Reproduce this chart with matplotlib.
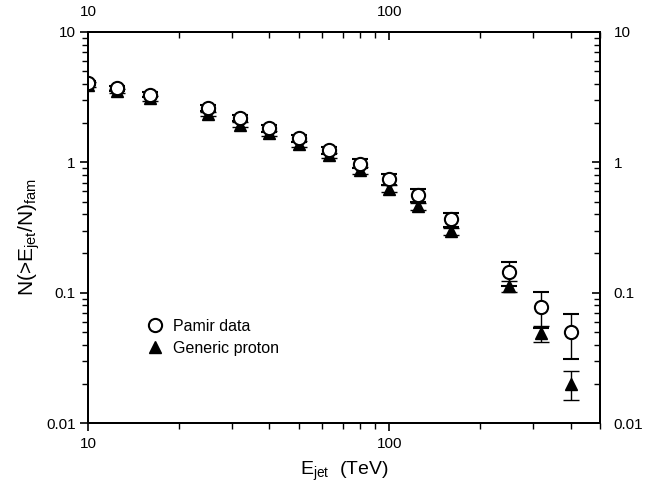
"""
Integral jet-energy spectrum: Pamir data vs. generic proton model.
Log-log plot with mirrored top/right axes, saved to out.png.
"""
import matplotlib
matplotlib.use("Agg")
import matplotlib.pyplot as plt
from matplotlib.lines import Line2D
from matplotlib.ticker import FuncFormatter, NullFormatter, LogLocator

plt.rcParams["font.family"] = ["Liberation Sans", "DejaVu Sans"]
plt.rcParams["mathtext.fontset"] = "custom"
plt.rcParams["mathtext.rm"] = "Liberation Sans"

# --------------------------------------------------------------------------- #
# Data
# --------------------------------------------------------------------------- #
E_JET = [10, 12.5, 16, 25, 32, 40, 50, 63, 80, 100, 125, 160, 250, 320, 400]

PAMIR = [4.05, 3.7, 3.3, 2.62, 2.2, 1.82, 1.53, 1.24, 0.98, 0.74, 0.56, 0.365,
         0.143, 0.078, 0.050]
PAMIR_ERR = [0.15, 0.15, 0.15, 0.15, 0.12, 0.10, 0.09, 0.08, 0.08, 0.07, 0.06,
             0.045, 0.03, 0.024, 0.019]

PROTON = [3.95, 3.55, 3.1, 2.35, 1.95, 1.67, 1.38, 1.13, 0.87, 0.63, 0.46, 0.295,
          0.113, 0.049, 0.020]
PROTON_ERR = [0.15, 0.12, 0.12, 0.10, 0.09, 0.08, 0.07, 0.05, 0.05, 0.04, 0.03,
              0.02, 0.011, 0.007, 0.005]

X_LIM = (10, 500)
Y_LIM = (0.01, 10)


def fmt(v, _pos):
    return f"{v:g}"


def style_log_axis(axis):
    axis.set_major_locator(LogLocator(base=10))
    axis.set_minor_locator(LogLocator(base=10, subs=range(2, 10)))
    axis.set_major_formatter(FuncFormatter(fmt))
    axis.set_minor_formatter(NullFormatter())


fig = plt.figure(figsize=(6.62, 4.92), dpi=100)
ax = fig.add_axes([0.133, 0.14, 0.773, 0.795])

ax.errorbar(E_JET, PAMIR, yerr=PAMIR_ERR, fmt="o", ms=9.5, mfc="white",
            mec="black", mew=1.5, ecolor="black", elinewidth=1.0, capsize=5.5,
            capthick=1.0, zorder=3)
ax.errorbar(E_JET, PROTON, yerr=PROTON_ERR, fmt="^", ms=8, mfc="black",
            mec="black", ecolor="black", elinewidth=1.0, capsize=5.5,
            capthick=1.0, zorder=2)

ax.set_xscale("log")
ax.set_yscale("log")
ax.set_xlim(*X_LIM)
ax.set_ylim(*Y_LIM)
style_log_axis(ax.xaxis)
style_log_axis(ax.yaxis)

ax.tick_params(which="major", direction="out", length=6, width=1.2, labelsize=11)
ax.tick_params(which="minor", direction="out", length=4, width=1.0)
ax.tick_params(axis="y", pad=3)
ax.tick_params(axis="x", pad=4)

# mirrored axes: ticks point inward on top and right
top = ax.twiny()
top.set_xscale("log")
top.set_xlim(*X_LIM)
style_log_axis(top.xaxis)
top.tick_params(which="major", direction="in", length=6, width=1.2,
                labelsize=11, pad=9)
top.tick_params(which="minor", direction="in", length=4, width=1.0)

right = ax.twinx()
right.set_yscale("log")
right.set_ylim(*Y_LIM)
style_log_axis(right.yaxis)
right.tick_params(which="major", direction="in", length=6, width=1.2,
                  labelsize=11, pad=10)
right.tick_params(which="minor", direction="in", length=4, width=1.0)

for a in (ax, top, right):
    for s in a.spines.values():
        s.set_linewidth(1.4)

ax.set_xlabel(r"E$_{\mathrm{jet}}$  (TeV)", fontsize=14, labelpad=6)
ax.set_ylabel(r"N(>E$_{\mathrm{jet}}$/N)$_{\mathrm{fam}}$", fontsize=15)
ax.yaxis.set_label_coords(-0.09, 0.475)

handles = [
    Line2D([], [], ls="none", marker="o", ms=9.5, mfc="white", mec="black",
           mew=1.5, label="Pamir data"),
    Line2D([], [], ls="none", marker="^", ms=8, mfc="black", mec="black",
           label="Generic proton"),
]
ax.legend(handles=handles, loc="upper left", bbox_to_anchor=(0.098, 0.283),
          frameon=False, fontsize=11.5, handletextpad=0.45, labelspacing=0.45,
          borderaxespad=0, handlelength=1.3)

fig.savefig("out.png", dpi=100)
